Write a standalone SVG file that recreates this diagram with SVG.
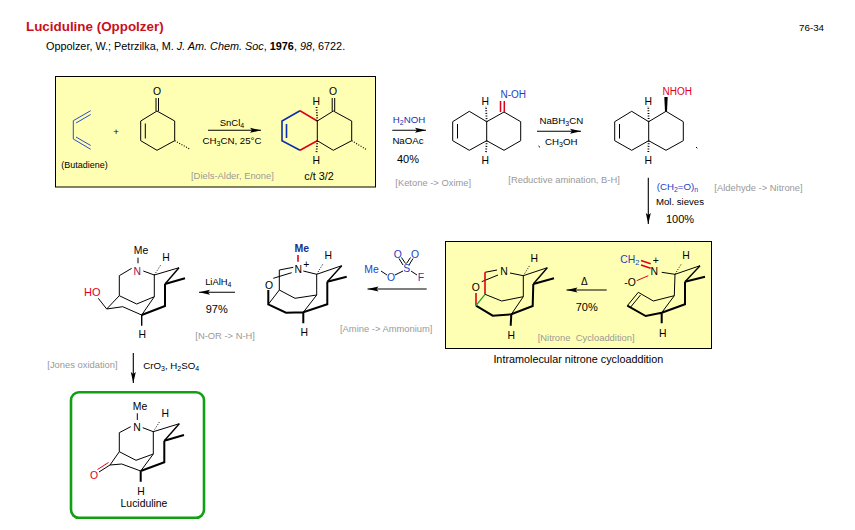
<svg xmlns="http://www.w3.org/2000/svg" width="855" height="530" viewBox="0 0 855 530">
<defs>
<marker id="ah" markerUnits="userSpaceOnUse" markerWidth="12" markerHeight="8" refX="11" refY="4" orient="auto"><polygon points="0,1.5 11,4 0,6.5 2,4" fill="#000"/></marker>
</defs>
<style>
text{font-family:"Liberation Sans",Arial,sans-serif;font-size:9.7px;fill:#000}
.c{text-anchor:middle}
.g{fill:#999;font-size:9.4px}
.bl{fill:#1a3fc4}
.r{fill:#e0001a}
.at{font-size:10.4px;text-anchor:middle}
.pc{font-size:11px;text-anchor:middle}
.box{fill:#ffffb3;stroke:#000;stroke-width:1}
path,line,polyline{fill:none}
.t{stroke:#000;stroke-width:1}
.k{stroke:#000;stroke-width:2}
.m{stroke:#000;stroke-width:1.4}
.hb{stroke:#000;stroke-width:1.8;stroke-dasharray:1 1.6}
.hr{stroke:#e0001a;stroke-width:1.6}
.hb2{stroke:#0a2fb0;stroke-width:1.6}
.tb{stroke:#2a4fc4;stroke-width:1}
.ar{stroke:#000;stroke-width:1.1;marker-end:url(#ah)}
</style>
<rect width="855" height="530" fill="#fff"/>
<g id="header">
<text x="26" y="30.5" style="font-size:13.4px;font-weight:bold;fill:#c8101c">Luciduline (Oppolzer)</text>
<text x="46" y="50" style="font-size:10.85px">Oppolzer, W.; Petrzilka, M. <tspan font-style="italic">J. Am. Chem. Soc</tspan>, <tspan font-weight="bold">1976</tspan>, <tspan font-style="italic">98</tspan>, 6722.</text>
<text x="799" y="31" style="font-size:9.8px">76-34</text>
</g>
<rect class="box" x="55.5" y="76.5" width="320" height="110.5"/>
<rect class="box" x="445.5" y="241.5" width="266" height="107"/>
<g id="butadiene">
<path class="tb" d="M90.7 110.7L73.3 120.7V139L90.7 149.3M90.7 114.5L76 123M90.7 145.5L76 137"/>
<text class="c" x="84.5" y="168" style="font-size:9px">(Butadiene)</text>
</g>
<text id="plus" class="c" x="116" y="135">+</text>
<g id="enone">
<path class="t" d="M157 111L174.7 121V140.7L157 150.3L140.7 140.7V121ZM145.3 123.5V138.5M156 111V98"/>
<path class="t" d="M158.5 111V98" />
<line class="hb" x1="174.7" y1="140.7" x2="190" y2="149.3" style="stroke-width:1.2"/>
<text class="at" x="157" y="95">O</text>
</g>
<g id="adduct">
<path class="t" d="M317.3 121L333.3 111L351.7 121V140.7L333.3 150.3L317.3 140.7ZM332.2 111V98M334.7 111V98"/>
<path class="hb2" d="M300 110.7L282 121V140.7L300 150.3M286.5 124V138"/>
<path class="hr" d="M300 110.7L317.3 121M300 150.3L317.3 140.7"/>
<line class="hb" x1="317.3" y1="121" x2="316.5" y2="106"/>
<line class="hb" x1="317.3" y1="140.7" x2="316.5" y2="153"/>
<line class="hb" x1="351.7" y1="140.7" x2="366" y2="149.3" style="stroke-width:1.2"/>
<text class="at" x="333" y="95">O</text><text class="at" x="316.3" y="105">H</text><text class="at" x="316.3" y="164">H</text>
<text class="c" x="319" y="180" style="font-size:10.8px">c/t 3/2</text>
</g>
<g id="oxime">
<path class="t" d="M486.7 121.7L469.3 111.3L452.7 121.7V140.7L469.3 150.3L486.7 140.7ZM486.7 121.7L504 112L520.7 121.7V140.7L504 150.3L486.7 140.7M457.5 124V138.5"/>
<path class="hr" d="M500.5 112V101M504.3 112V101" style="stroke-width:1.5"/>
<line class="hb" x1="486.7" y1="121.7" x2="486" y2="106"/>
<line class="hb" x1="486.7" y1="140.7" x2="486" y2="153"/>
<text class="bl" x="500.5" y="98" style="font-size:10px">N-OH</text>
<text class="at" x="485.3" y="105">H</text><text class="at" x="485.3" y="164">H</text>
</g>
<g id="hydroxylamine">
<path class="t" d="M648.7 121.7L631.7 111.3L614.7 121.7V140.7L631.7 150.3L648.7 140.7ZM648.7 121.7L666 111.3L683.3 121.7V140.7L666 150.3L648.7 140.7M619.5 124V138.5"/>
<polygon points="664.3,97 667.7,97 667,111.3 665,111.3" fill="#000"/>
<line class="hb" x1="648.7" y1="121.7" x2="648.3" y2="106"/>
<line class="hb" x1="648.7" y1="140.7" x2="648.3" y2="153"/>
<text class="r" x="662.5" y="94.5" style="font-size:10px">NHOH</text>
<text class="at" x="648.3" y="105">H</text><text class="at" x="648.3" y="164">H</text>
<line class="t" x1="696" y1="147" x2="697.3" y2="148.3"/>
</g>
<g id="cycloadduct">
<path class="t" d="M497 270L485 272.3M481.7 281.7L498 275M510 273L523.3 275.7L547.3 267.7M523.3 275.7V296.7L501.7 301L485 294.3M523.3 296.7L511.3 314.3"/>
<path class="m" d="M547.3 267.7L533.3 284"/>
<path class="k" d="M533.3 284L554 278.3M533.3 284L532.7 306L511.3 314.3L492.7 315.7L476 305.7"/>
<path class="hr" d="M476 305.7V293M485 272.3V294.3"/>
<line x1="476" y1="305.7" x2="485" y2="294.3" stroke="#1a9a2a" stroke-width="1.2"/>
<line class="hb" x1="523.3" y1="275.7" x2="530" y2="265" style="stroke-width:1"/>
<line class="k" x1="511.3" y1="314.3" x2="510.7" y2="325.7"/>
<text class="at" x="504" y="275">N</text><text class="at" x="475.7" y="291">O</text><text class="at" x="534.3" y="262">H</text><text class="at" x="511.3" y="339">H</text>
<text class="g" x="537.7" y="341" style="white-space:pre">[Nitrone  Cycloaddition]</text>
</g>
<text id="caption" class="c" x="578.3" y="362.7" style="font-size:10.8px">Intramolecular nitrone cycloaddition</text>
<g id="nitrone">
<path class="hr" d="M641 260.5L650.7 263.8M641 265L650.7 268.3"/>
<line x1="648.3" y1="275.7" x2="636.7" y2="280.7" stroke="#e0001a" stroke-width="1"/>
<path class="t" d="M661.7 272.3L675 274.3L700 265.7M675 274.3L674.3 295.7L653.3 301L638.3 292.3L627.3 305.7M630.7 307L640.5 295M674.3 295.7L661.7 312.7"/>
<path class="m" d="M700 265.7L685 281.7"/>
<path class="k" d="M685 281.7L705 276.7M685 281.7V304.3L661.7 312.7L645.7 316L627.3 305.7M661.7 312.7V323.3"/>
<line class="hb" x1="675" y1="274.3" x2="681.7" y2="263.3" style="stroke-width:1"/>
<text class="bl" x="620.3" y="262.5" style="font-size:10.4px">CH<tspan dy="2" style="font-size:7.5px">2</tspan></text>
<text class="at" x="654.3" y="274.5">N</text><text class="at" x="655.7" y="264">+</text>
<text x="624.3" y="285.7" style="font-size:10.4px">-O</text>
<text class="at" x="686" y="259">H</text><text class="at" x="662.7" y="337">H</text>
</g>
<g id="ammonium">
<path class="hr" d="M298 255V261.7"/>
<path class="t" d="M293.3 267.3L279.3 270V290L295 298.3L316.7 295V274.3L341.7 265.7M303.3 271L316.7 274.3M273.3 278.3L291.7 272.7M268.3 304.3L279.3 290M316.7 295L303.3 312.3"/>
<path class="m" d="M341.7 265.7L327.3 281.7"/>
<path class="k" d="M327.3 281.7L346.7 276.7M327.3 281.7V304.3L303.3 312.3L286 312.7L268.3 304.3V290M303.3 312.3V323.3"/>
<line class="hb" x1="316.7" y1="274.3" x2="323.3" y2="263.3" style="stroke-width:1"/>
<text class="at" x="301.7" y="251.5" style="font-weight:bold;font-size:10.5px;fill:#1a2f8c">Me</text>
<text class="at" x="298.3" y="272.5">N</text><text class="at" x="306.3" y="268">+</text>
<text class="at" x="269" y="289">O</text><text class="at" x="328.3" y="259">H</text><text class="at" x="304.3" y="336">H</text>
</g>
<g id="fluorosulfonate">
<path class="t" d="M381 271L387 275M395 275L403 271M411 271L417 275M403 265L399 258.5M405.5 263.5L401.5 257.5M409 265L413 258.5M406.5 263.5L410.5 257.5"/>
<text class="bl" x="364.3" y="272.7" style="font-size:10.4px">Me</text>
<text class="at bl" x="391" y="281">O</text><text class="at bl" x="406.7" y="272">S</text><text class="at bl" x="397.7" y="258">O</text><text class="at bl" x="415" y="258">O</text><text class="at bl" x="421" y="281">F</text>
</g>
<g id="alcohol">
<path class="t" d="M138 257.7V263.3M131.7 268.3L119.3 275.7V295.7L136.7 304L154.3 296.7V275L179 267.7M143.3 271L154.3 275M154.3 296.7L141.7 315M119.3 295.7L106.7 309L122.7 306.7L141.7 315M106.7 309L98.3 298.3"/>
<path class="m" d="M179 267.7L165 284"/>
<path class="k" d="M165 284L185 278.3M165 284V306L141.7 315"/>
<line class="m" x1="141.7" y1="315" x2="141.7" y2="325.7"/>
<line class="hb" x1="154.3" y1="275" x2="160.7" y2="265" style="stroke-width:1"/>
<text class="at" x="141" y="253.5">Me</text><text class="at" x="137.3" y="274.5" style="fill:#a01050">N</text><text class="at" x="166" y="261">H</text><text class="at" x="142.3" y="338">H</text>
<text class="r" x="84" y="295.7" style="font-size:11px">HO</text>
</g>
<g id="luciduline">
<rect x="71" y="392.3" width="133" height="125.5" rx="8" fill="#fff" stroke="#12a012" stroke-width="2.6"/>
<path class="t" d="M137.3 413.3V420M130.7 426.7L119.3 432.7V451.7L136 460.3L153.3 454V431.7L179.3 423.7M142.7 427.7L153.3 431.7M153.3 454L140.7 471M119.3 451.7L110 465L121.7 464L140.7 471"/>
<path class="m" d="M179.3 423.7L164.3 440.7"/>
<path class="k" d="M164.3 440.7L184 435M164.3 440.7V462.3L140.7 471M140.7 471V481.7"/>
<line class="hb" x1="153.3" y1="431.7" x2="160" y2="421" style="stroke-width:1"/>
<line class="t" x1="110" y1="465" x2="99" y2="472"/>
<line x1="108.5" y1="462.5" x2="97.5" y2="469.5" stroke="#e0001a" stroke-width="1"/>
<text class="at" x="140" y="410">Me</text><text class="at" x="137" y="431">N</text><text class="at" x="165.3" y="417">H</text><text class="at" x="141" y="495">H</text>
<text class="at r" x="94" y="479">O</text>
<text class="c" x="144" y="507" style="font-size:10.4px">Luciduline</text>
</g>
<g id="connectors">
<line class="ar" x1="208" y1="130.3" x2="261" y2="130.3"/>
<line class="ar" x1="392.3" y1="130.3" x2="426" y2="130.3"/>
<line class="ar" x1="537" y1="131.3" x2="581" y2="131.3"/>
<line class="ar" x1="648.3" y1="177.7" x2="648.3" y2="224"/>
<line class="ar" x1="606.7" y1="290" x2="566.5" y2="290"/>
<line class="ar" x1="426.7" y1="289" x2="367.5" y2="289"/>
<line class="ar" x1="235" y1="292.3" x2="199" y2="292.3"/>
<line class="ar" x1="133.3" y1="353" x2="133.3" y2="383"/>
</g>
<g id="labels">
<text class="c" x="232" y="126" style="font-size:9.5px">SnCl<tspan dy="2" style="font-size:7px">4</tspan></text>
<text class="c" x="232" y="144" style="font-size:9.7px">CH<tspan dy="2" style="font-size:7px">3</tspan><tspan dy="-2">CN, 25</tspan>°C</text>
<text class="g" x="191" y="179">[Diels-Alder, Enone]</text>
<text class="c" x="409" y="123" style="fill:#2030b0">H<tspan dy="2" style="font-size:7px">2</tspan><tspan dy="-2">NOH</tspan></text>
<text class="c" x="408" y="144">NaOAc</text>
<text class="pc" x="408" y="163">40%</text>
<text class="g" x="395.3" y="186">[Ketone -&gt; Oxime]</text>
<text class="c" x="561.3" y="124">NaBH<tspan dy="2" style="font-size:7px">3</tspan><tspan dy="-2">CN</tspan></text>
<line class="t" x1="538.5" y1="146" x2="540" y2="147.3"/>
<text x="545" y="145">CH<tspan dy="2" style="font-size:7px">3</tspan><tspan dy="-2">OH</tspan></text>
<text class="g" x="508.3" y="183">[Reductive amination, B-H]</text>
<text class="bl" x="656.7" y="190">(CH<tspan dy="2" style="font-size:7px">2</tspan><tspan dy="-2">=O)</tspan><tspan dy="2" style="font-size:7px">n</tspan></text>
<text x="656" y="204.7" style="font-size:9.6px">Mol. sieves</text>
<text class="pc" x="680" y="222.7">100%</text>
<text class="g" x="714.3" y="191.3">[Aldehyde -&gt; Nitrone]</text>
<text class="c" x="584.3" y="285" style="font-size:10px">Δ</text>
<text class="pc" x="586.7" y="311">70%</text>
<text class="g" x="340" y="332.3">[Amine -&gt; Ammonium]</text>
<text class="c" x="218.3" y="285" style="font-size:9.4px">LiAlH<tspan dy="2" style="font-size:7px">4</tspan></text>
<text class="pc" x="216.7" y="312.7">97%</text>
<text class="g" x="195.3" y="339">[N-OR -&gt; N-H]</text>
<text class="g" x="47.3" y="368.3">[Jones oxidation]</text>
<text x="143.3" y="369">CrO<tspan dy="2" style="font-size:7px">3</tspan><tspan dy="-2">, H</tspan><tspan dy="2" style="font-size:7px">2</tspan><tspan dy="-2">SO</tspan><tspan dy="2" style="font-size:7px">4</tspan></text>
</g>
</svg>
